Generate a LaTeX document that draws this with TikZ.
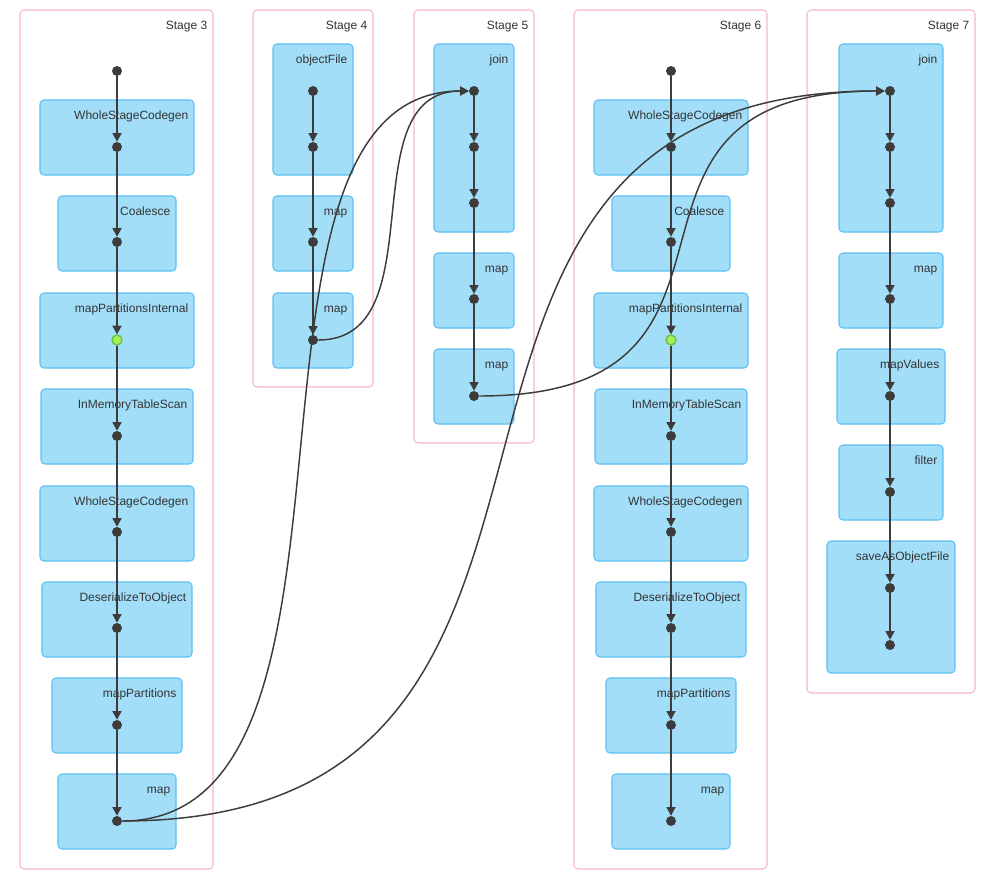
\documentclass[tikz,border=0pt]{standalone}
\usepackage{fontspec}
\setmainfont{Liberation Sans}
\usetikzlibrary{arrows.meta, fit}

\definecolor{opfill}{HTML}{A3DEF9}
\definecolor{opline}{HTML}{5CC0F2}
\definecolor{stageline}{HTML}{F7B8C6}
\definecolor{dotc}{HTML}{3C3C3C}
\definecolor{hotfill}{HTML}{A5EE5C}
\definecolor{hotline}{HTML}{64C23C}

\begin{document}
\begin{tikzpicture}[
    x=0.75pt, y=-0.75pt,
    font=\fontsize{9}{11}\selectfont, text=black!80,
    label distance=0pt,
    stage/.style={rectangle, rounded corners=3pt, draw=stageline,
                  line width=0.8pt, fill=white, inner sep=0pt},
    op/.style={rectangle, rounded corners=3pt, draw=opline,
               line width=0.8pt, fill=opfill, inner sep=0pt},
    lbl/.style={anchor=base east, inner sep=0pt, xshift=-4.5pt, yshift=-15pt},
    dot/.style={circle, fill=dotc, inner sep=0pt, minimum size=7.5pt},
    hot/.style={fill=hotfill, draw=hotline, line width=1pt, minimum size=7.5pt},
    arr/.style={-{Triangle[length=6.5pt, width=6.8pt]}, draw=dotc, line width=1.1pt}
  ]
  \useasboundingbox (0,0) rectangle (1002,889);

  \node[stage, fit={(20,10) (213,869)},  label={[lbl]north east:Stage 3}] (st3) {};
  \node[stage, fit={(253,10) (373,387)}, label={[lbl]north east:Stage 4}] (st4) {};
  \node[stage, fit={(414,10) (534,443)}, label={[lbl]north east:Stage 5}] (st5) {};
  \node[stage, fit={(574,10) (767,869)}, label={[lbl]north east:Stage 6}] (st6) {};
  \node[stage, fit={(807,10) (975,693)}, label={[lbl]north east:Stage 7}] (st7) {};

  \foreach \s/\cx in {3/117, 6/671} {
    \foreach \n/\w/\t/\txt in {1/77/100/WholeStageCodegen, 2/59/196/Coalesce,
                               3/77/293/mapPartitionsInternal, 4/76/389/InMemoryTableScan,
                               5/77/486/WholeStageCodegen, 6/75/582/DeserializeToObject,
                               7/65/678/mapPartitions, 8/59/774/map}
      \node[op, fit={(\cx-\w,\t) (\cx+\w,\t+75)}, label={[lbl]north east:\txt}] (s\s-b\n) {};
    \foreach \i/\y in {0/71, 1/147, 2/242, 4/436, 5/532, 6/628, 7/725, 8/821}
      \node[dot] (s\s-p\i) at (\cx,\y) {};
    \node[dot, hot] (s\s-p3) at (\cx,340) {};
  }

  \node[op, fit={(273,44) (353,175)},  label={[lbl]north east:objectFile}] (s4-b1) {};
  \node[op, fit={(273,196) (353,271)}, label={[lbl]north east:map}] (s4-b2) {};
  \node[op, fit={(273,293) (353,368)}, label={[lbl]north east:map}] (s4-b3) {};
  \foreach \i/\y in {0/91, 1/147, 2/242, 3/340}
    \node[dot] (s4-p\i) at (313,\y) {};

  \node[op, fit={(434,44) (514,232)},  label={[lbl]north east:join}] (s5-b1) {};
  \node[op, fit={(434,253) (514,328)}, label={[lbl]north east:map}] (s5-b2) {};
  \node[op, fit={(434,349) (514,424)}, label={[lbl]north east:map}] (s5-b3) {};
  \foreach \i/\y in {0/91, 1/147, 2/203, 3/299, 4/396}
    \node[dot] (s5-p\i) at (474,\y) {};

  \node[op, fit={(839,44) (943,232)},  label={[lbl]north east:join}] (s7-b1) {};
  \node[op, fit={(839,253) (943,328)}, label={[lbl]north east:map}] (s7-b2) {};
  \node[op, fit={(837,349) (945,424)}, label={[lbl]north east:mapValues}] (s7-b3) {};
  \node[op, fit={(839,445) (943,520)}, label={[lbl]north east:filter}] (s7-b4) {};
  \node[op, fit={(827,541) (955,673)}, label={[lbl]north east:saveAsObjectFile}] (s7-b5) {};
  \foreach \i/\y in {0/91, 1/147, 2/203, 3/299, 4/396, 5/492, 6/588, 7/645}
    \node[dot] (s7-p\i) at (890,\y) {};

  \foreach \s/\n in {3/8, 4/3, 5/4, 6/8, 7/7}
    \foreach \a in {1,...,\n} {
      \pgfmathtruncatemacro\prev{\a-1}
      \draw[arr] (s\s-p\prev) -- (s\s-p\a);
    }

  \draw[arr] (s3-p8) .. controls (400,821) and (205,91) .. (s5-p0);
  \draw[arr] (s4-p3) .. controls (438,340) and (348,91) .. (s5-p0);
  \draw[arr] (s3-p8) .. controls (684,821) and (322,91) .. (s7-p0);
  \draw[arr] (s5-p4) .. controls (797,396) and (567,91) .. (s7-p0);

\end{tikzpicture}
\end{document}
